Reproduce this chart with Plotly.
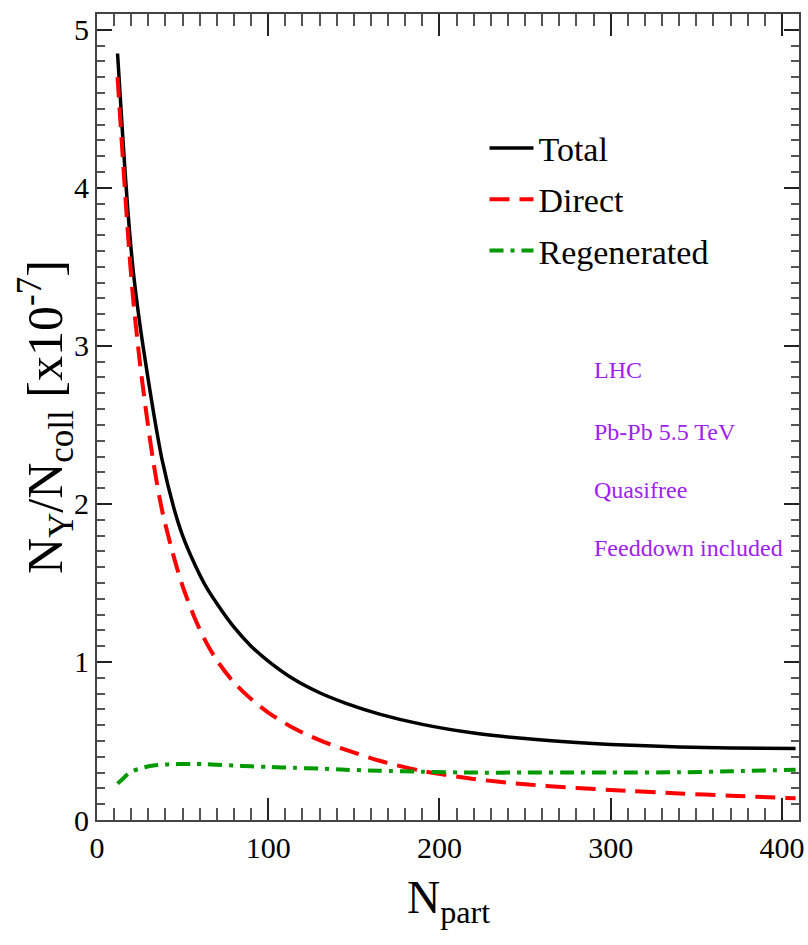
import plotly.graph_objects as go

# N_part values (x axis)
npart = [12, 15, 18, 21, 25, 29, 33, 38, 45, 50, 57, 63, 70, 80, 90, 100,
         115, 130, 145, 165, 190, 220, 250, 280, 300, 340, 370, 408]

# N_Upsilon / N_coll  [x 10^-7]
total = [4.85, 4.33, 3.86, 3.49, 3.14, 2.85, 2.58, 2.28, 1.97, 1.80, 1.62, 1.49,
         1.37, 1.22, 1.10, 1.005, 0.89, 0.805, 0.74, 0.67, 0.605, 0.55, 0.515, 0.49,
         0.478, 0.462, 0.455, 0.453]
direct = [4.70, 4.20, 3.72, 3.31, 2.90, 2.56, 2.26, 1.96, 1.66, 1.48, 1.28, 1.14,
          1.01, 0.87, 0.765, 0.68, 0.58, 0.505, 0.445, 0.375, 0.31, 0.26, 0.226, 0.203,
          0.19, 0.168, 0.154, 0.137]
regenerated = [0.23, 0.26, 0.29, 0.31, 0.325, 0.337, 0.345, 0.35, 0.353, 0.354, 0.355,
               0.354, 0.35, 0.345, 0.34, 0.336, 0.33, 0.325, 0.318, 0.312, 0.305, 0.30,
               0.30, 0.30, 0.30, 0.302, 0.308, 0.318]

series_names = ["Total", "Direct", "Regenerated"]
info_lines = ["LHC", "Pb-Pb 5.5 TeV", "Quasifree", "Feeddown included"]

x_ticks = [0, 100, 200, 300, 400]
y_ticks = [0, 1, 2, 3, 4, 5]

FONT = "Liberation Serif, Times New Roman, serif"
PURPLE = "#a020f0"

fig = go.Figure()
fig.add_trace(go.Scatter(x=npart, y=total, mode="lines", name=series_names[0],
                         legendgroup="a",
                         line=dict(color="black", width=3.5, shape="spline", smoothing=0.8)))
fig.add_trace(go.Scatter(x=npart, y=direct, mode="lines", name=series_names[1],
                         legendgroup="b",
                         line=dict(color="#ff0000", width=4, dash="20px,10px",
                                   shape="spline", smoothing=0.8)))
fig.add_trace(go.Scatter(x=npart, y=regenerated, mode="lines", name=series_names[2],
                         legendgroup="c",
                         line=dict(color="#009a00", width=4, dash="14px,7px,4px,7px",
                                   shape="spline", smoothing=0.8)))

axis_common = dict(
    showline=True, linecolor="#444", linewidth=2, mirror="allticks",
    ticks="inside", tickcolor="#222", tickwidth=2,
    showgrid=False, zeroline=False,
    tickfont=dict(family=FONT, size=30, color="black"),
)

fig.update_xaxes(range=[0, 410], tickvals=x_ticks, ticklen=22,
                 minor=dict(dtick=10, ticklen=12, tickcolor="#555", tickwidth=1.5, ticks="inside"),
                 **axis_common)
fig.update_yaxes(range=[0, 5.1], tickvals=y_ticks, ticklen=15,
                 minor=dict(dtick=0.1, ticklen=8, tickcolor="#555", tickwidth=1.5, ticks="inside"),
                 **axis_common)

annotations = [
    dict(text="N<sub>Υ</sub>/N<sub>coll</sub> [x10<sup>-7</sup>]", textangle=-90,
         xref="paper", yref="paper", x=-0.074, y=0.5, xanchor="center", yanchor="middle",
         showarrow=False, font=dict(family=FONT, size=50, color="black")),
    dict(text="N<sub>part</sub>", xref="paper", yref="paper", x=0.5, y=-0.1,
         xanchor="center", yanchor="middle", showarrow=False,
         font=dict(family=FONT, size=46, color="black")),
]
info_y = [0.558, 0.481, 0.409, 0.337]
for txt, yy in zip(info_lines, info_y):
    annotations.append(dict(text=txt, xref="paper", yref="paper", x=0.705, y=yy,
                            xanchor="left", yanchor="middle", showarrow=False,
                            font=dict(family=FONT, size=24, color=PURPLE)))

fig.update_layout(
    width=808, height=945,
    margin=dict(l=97, r=4, t=14, b=125),
    paper_bgcolor="white", plot_bgcolor="white",
    showlegend=True,
    legend=dict(x=0.552, y=0.770, xanchor="left", yanchor="middle",
                font=dict(family=FONT, size=34, color="black"),
                bgcolor="rgba(0,0,0,0)", tracegroupgap=4, itemwidth=44),
    annotations=annotations,
)

fig.write_html("out.html")
